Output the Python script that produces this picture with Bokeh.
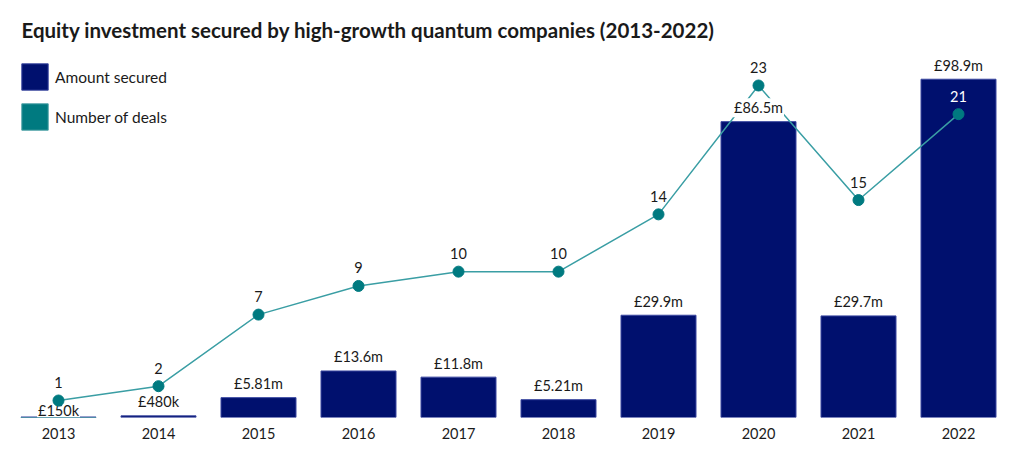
from bokeh.plotting import figure
from bokeh.models import ColumnDataSource, Range1d, Legend, LegendItem
from bokeh.core.properties import value
from bokeh.embed import file_html
from bokeh.resources import INLINE

# data
years = ["2013", "2014", "2015", "2016", "2017", "2018", "2019", "2020", "2021", "2022"]
amount = [0.15, 0.48, 5.81, 13.6, 11.8, 5.21, 29.9, 86.5, 29.7, 98.9]
amount_labels = ["£150k", "£480k", "£5.81m", "£13.6m", "£11.8m", "£5.21m",
                 "£29.9m", "£86.5m", "£29.7m", "£98.9m"]
deals = [1, 2, 7, 9, 10, 10, 14, 23, 15, 21]

FONT = "Lato"
NAVY = "#00106e"
TEAL = "#007a80"
TEXT = "#1a1a1a"

FRAME_H = 367
amount_range = (0, 107.3)
deals_range = (-0.187, 25.445)

px_amount = FRAME_H / (amount_range[1] - amount_range[0])
px_deals = FRAME_H / (deals_range[1] - deals_range[0])

# deal labels sitting on a dark bar are drawn in white,
# amount labels that would hit a deal marker are pulled down to the bar
deal_colors = []
amount_offsets = []
for a, d in zip(amount, deals):
    bar_px = a * px_amount
    dot_px = (d - deals_range[0]) * px_deals
    deal_colors.append("white" if dot_px < bar_px else TEXT)
    amount_offsets.append(-14 if abs(bar_px + 14 - dot_px) > 12 else -6)

src = ColumnDataSource(data=dict(year=years, amount=amount, amount_label=amount_labels,
                                 amount_offset=amount_offsets,
                                 deals=deals, deal_label=[str(d) for d in deals],
                                 deal_color=deal_colors))

p = figure(x_range=years,
           y_range=Range1d(*amount_range),
           width=1016,
           height=460,
           min_border_left=8,
           min_border_right=8,
           min_border_top=50,
           min_border_bottom=43,
           y_axis_location=None,
           toolbar_location=None,
           output_backend="svg")
p.extra_y_ranges = {"deals": Range1d(*deals_range)}

p.title.text = "Equity investment secured by high-growth quantum companies (2013-2022)"
p.title.text_font = FONT
p.title.text_font_size = "20.5px"
p.title.text_font_style = "bold"
p.title.text_color = TEXT
p.title.offset = 13
p.title.standoff = 17

p.outline_line_color = None
p.xgrid.grid_line_color = None
p.ygrid.grid_line_color = None

p.xaxis.axis_line_color = None
p.xaxis.major_tick_line_color = None
p.xaxis.minor_tick_line_color = None
p.xaxis.major_label_standoff = 4
p.xaxis.major_label_text_font = FONT
p.xaxis.major_label_text_font_size = "14.5px"
p.xaxis.major_label_text_color = TEXT

#Bars
bars = p.vbar(x="year", top="amount", width=0.75, source=src,
              fill_color=NAVY, line_color="#3a47a0", line_width=1)

#Deals line
p.line(x="year", y="deals", source=src, y_range_name="deals",
       line_color="#3a9ea4", line_width=1.5)

#Amount labels
p.text(x="year", y="amount", text="amount_label", source=src,
       text_align="center", text_baseline="middle", y_offset="amount_offset",
       text_font=value(FONT), text_font_size="14.5px", text_color=TEXT,
       background_fill_color="white", padding=1)

#Deal markers and labels
p.scatter(x="year", y="deals", source=src, y_range_name="deals",
          size=11, fill_color=TEAL, line_color=TEAL)
p.text(x="year", y="deals", text="deal_label", source=src, y_range_name="deals",
       text_align="center", text_baseline="middle", y_offset=-18,
       text_font=value(FONT), text_font_size="14.5px", text_color="deal_color")

#Legend swatch for the deals series, kept below the visible range
swatch = p.vbar(x=years[:1], bottom=[-5], top=[-4], width=0.75,
                y_range_name="deals", fill_color=TEAL, line_color="#4aa0a6")

legend = Legend(items=[LegendItem(label="Amount secured", renderers=[bars]),
                       LegendItem(label="Number of deals", renderers=[swatch])],
                location="top_left",
                margin=10,
                padding=0,
                spacing=7,
                glyph_width=33,
                glyph_height=33,
                label_standoff=4,
                label_text_font=FONT,
                label_text_font_size="15.5px",
                label_text_color=TEXT,
                border_line_color=None,
                background_fill_alpha=0)
p.add_layout(legend)

open("out.html", "w").write(file_html(p, INLINE))
